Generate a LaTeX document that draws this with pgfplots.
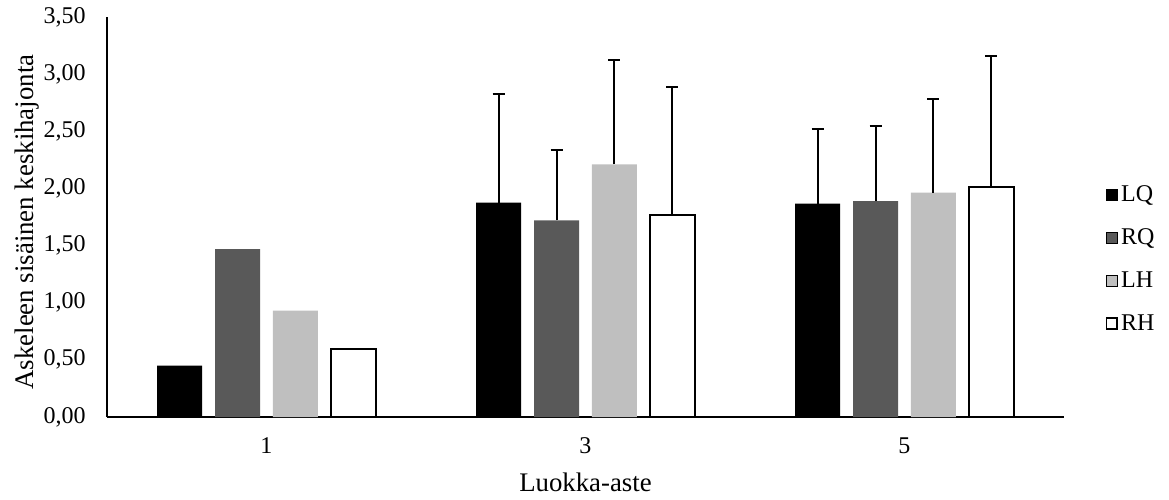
\documentclass[border=0pt]{standalone}
\usepackage{pgfplots}
\pgfplotsset{compat=1.18}
\usepackage{fontspec}
\setmainfont{Liberation Serif}
\definecolor{cRQ}{HTML}{595959}
\definecolor{cLH}{HTML}{BFBFBF}
\pgfplotsset{
  sqlegend/.style={legend image code/.code={\draw[##1] (0pt,-2.7pt) rectangle (5.4pt,2.7pt);}},
  errstyle/.style={forget plot, draw=none, fill=none,
    error bars/y dir=plus, error bars/y explicit,
    error bars/error bar style={draw=black, line width=1.05pt, solid},
    error bars/error mark options={rotate=90, draw=black, line width=1.05pt, mark size=3pt, solid}}
}
\begin{document}
\begin{tikzpicture}
\useasboundingbox (-53.5pt,-41pt) rectangle (531pt,208.5pt);
\begin{axis}[
  scale only axis, width=478.5pt, height=200pt,
  at={(0,0)}, anchor=south west,
  ybar, bar width=0.141,
  xmin=-0.5, xmax=2.5, ymin=0, ymax=3.5,
  xtick={0,1,2}, xticklabels={1,3,5},
  ytick={0,0.5,1,1.5,2,2.5,3,3.5},
  axis lines*=left,
  axis line style={line width=0.6pt, black},
  major tick length=0pt,
  tick label style={font=\fontsize{12}{14.4}\selectfont, inner sep=0pt},
  /pgf/number format/fixed,
  /pgf/number format/fixed zerofill,
  /pgf/number format/precision=2,
  /pgf/number format/use comma,
  /pgf/number format/assume math mode=true,
  yticklabel style={anchor=east, xshift=-10.5pt},
  xticklabel style={anchor=center, yshift=-14.25pt},
  xlabel={Luokka-aste},
  ylabel={Askeleen sisäinen keskihajonta},
  every axis x label/.style={at={(axis description cs:0.5,-0.1625)}, anchor=center, font=\fontsize{13.4}{16}\selectfont},
  every axis y label/.style={at={(axis description cs:-0.0838,0.4875)}, anchor=center, rotate=90, font=\fontsize{13.4}{16}\selectfont},
  legend cell align=left,
  legend style={at={(axis description cs:1.043,0.394)}, anchor=west, draw=none, fill=none,
    inner sep=0pt, row sep=9pt, font=\fontsize{12}{14.4}\selectfont,
    nodes={inner sep=1.5pt}},
]
\addplot[fill=black, draw=none, bar shift=-0.272, sqlegend] coordinates {(0,0.45) (1,1.876) (2,1.867)};
\addlegendentry{LQ}
\addplot[fill=cRQ, draw=none, bar shift=-0.0907, sqlegend] coordinates {(0,1.47) (1,1.72) (2,1.89)};
\addlegendentry{RQ}
\addplot[fill=cLH, draw=none, bar shift=0.0907, sqlegend] coordinates {(0,0.93) (1,2.21) (2,1.963)};
\addlegendentry{LH}
\addplot[fill=white, draw=black, line width=0.9pt, bar shift=0.272, sqlegend] coordinates {(0,0.595) (1,1.765) (2,2.016)};
\addlegendentry{RH}
\addplot[bar shift=-0.272, errstyle] coordinates {(1,1.876) +- (0,0.95) (2,1.867) +- (0,0.65)};
\addplot[bar shift=-0.0907, errstyle] coordinates {(1,1.72) +- (0,0.62) (2,1.89) +- (0,0.66)};
\addplot[bar shift=0.0907, errstyle] coordinates {(1,2.21) +- (0,0.91) (2,1.963) +- (0,0.82)};
\addplot[bar shift=0.272, errstyle] coordinates {(1,1.765) +- (0,1.125) (2,2.016) +- (0,1.14)};
\end{axis}
\end{tikzpicture}
\end{document}
